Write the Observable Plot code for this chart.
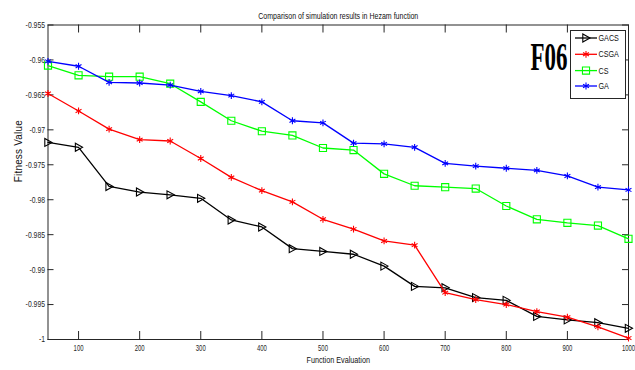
<!DOCTYPE html>
<html><head><meta charset="utf-8">
<script src="https://cdn.jsdelivr.net/npm/d3@7"></script>
<script src="https://cdn.jsdelivr.net/npm/@observablehq/plot@0.6"></script>
<style>body{margin:0;background:#fff;overflow:hidden} #chart{width:635px;height:370px}</style>
</head><body><div id="chart"></div>
<script>
const evaluations = [50,100,150,200,250,300,350,400,450,500,550,600,650,700,750,800,850,900,950,1000];
const gacs = [-0.9718,-0.9725,-0.9781,-0.9789,-0.9793,-0.9798,-0.9829,-0.9839,-0.9870,-0.9874,-0.9878,-0.9895,-0.9924,-0.9926,-0.9940,-0.9944,-0.9967,-0.9972,-0.9976,-0.9984];
const csga = [-0.9648,-0.9673,-0.9699,-0.9714,-0.9716,-0.9741,-0.9768,-0.9787,-0.9803,-0.9828,-0.9842,-0.9859,-0.9865,-0.9933,-0.9943,-0.9950,-0.9960,-0.9968,-0.9982,-0.9998];
const cs = [-0.9608,-0.9622,-0.9624,-0.9624,-0.9634,-0.9660,-0.9687,-0.9702,-0.9708,-0.9726,-0.9729,-0.9763,-0.9780,-0.9782,-0.9784,-0.9809,-0.9828,-0.9833,-0.9837,-0.9856];
const ga = [-0.9602,-0.9609,-0.9632,-0.9633,-0.9636,-0.9645,-0.9651,-0.9660,-0.9687,-0.9690,-0.9719,-0.9720,-0.9725,-0.9748,-0.9752,-0.9755,-0.9758,-0.9766,-0.9782,-0.9786];
const seriesNames = ["GACS","CSGA","CS","GA"];
const seriesColors = ["#000000","#ff0000","#00ff00","#0000ff"];
const xTicks = [100,200,300,400,500,600,700,800,900,1000];
const yTicks = [-1,-0.995,-0.99,-0.985,-0.98,-0.975,-0.97,-0.965,-0.96,-0.955];
const titleText = "Comparison of simulation results in Hezam function";
const xLabel = "Function Evaluation";
const yLabel = "Fitness Value";
const badge = "F06";

const triangleRight = {draw(ctx, size) {const r = Math.sqrt(size / Math.PI); ctx.moveTo(r, 0); ctx.lineTo(-r * 0.8, -r); ctx.lineTo(-r * 0.8, r); ctx.closePath();}};
const symbols = [triangleRight, d3.symbolAsterisk, d3.symbolSquare, d3.symbolAsterisk];
const radii = [4, 3.2, 4, 3.2];

const values = [gacs, csga, cs, ga];
const rows = [];
seriesNames.forEach((s, i) => values[i].forEach((v, j) => rows.push({x: evaluations[j], y: v, series: s})));

const W = 635, H = 370, mL = 47.5, mR = 7, mT = 24.5, mB = 31;
const pw = W - mL - mR, ph = H - mT - mB;
const axisColor = "#262626";

const marks = [
  Plot.frame({stroke: axisColor, strokeWidth: 1}),
  Plot.ruleX(xTicks, {x: d => d, insetTop: ph - 8, stroke: axisColor}),
  Plot.ruleX(xTicks, {x: d => d, insetBottom: ph - 8, stroke: axisColor}),
  Plot.ruleY(yTicks, {y: d => d, insetRight: pw - 6, stroke: axisColor}),
  Plot.ruleY(yTicks, {y: d => d, insetLeft: pw - 6, stroke: axisColor}),
  Plot.axisX(xTicks, {tickSize: 0, tickPadding: 5, label: null, fontSize: 9, fill: axisColor, tickFormat: d => String(d), className: "xt"}),
  Plot.axisY(yTicks, {tickSize: 0, tickPadding: 3, label: null, fontSize: 9, fill: axisColor, tickFormat: d => String(+d.toFixed(3)), className: "yt"}),
];
seriesNames.forEach((s, i) => {
  const data = rows.filter(r => r.series === s);
  marks.push(Plot.line(data, {x: "x", y: "y", stroke: seriesColors[i], strokeWidth: 1.3}));
  marks.push(Plot.dot(data, {x: "x", y: "y", symbol: () => symbols[i], r: radii[i], stroke: seriesColors[i], fill: "none", strokeWidth: 1.1}));
});
marks.push(Plot.text([titleText], {frameAnchor: "top", dy: -12.5, fontSize: 9.5, fill: "#111", className: "ttl"}));
marks.push(Plot.text([xLabel], {frameAnchor: "bottom", dy: 23, fontSize: 9.5, fill: "#111", className: "xl"}));
marks.push(Plot.text([yLabel], {frameAnchor: "left", dx: -29, rotate: -90, fontSize: 10, fill: "#111", className: "yl"}));
marks.push(Plot.text([badge], {frameAnchor: "top-right", dx: -61, dy: 44.5, lineAnchor: "bottom", textAnchor: "end", fontSize: 39, fontWeight: "bold", fontFamily: "Liberation Serif", fill: "#000", className: "badge"}));

const chart = Plot.plot({
  width: W, height: H, marginLeft: mL, marginRight: mR, marginTop: mT, marginBottom: mB,
  x: {domain: [50, 1000], axis: null},
  y: {domain: [-1, -0.955], axis: null},
  style: {fontFamily: "Liberation Sans, Arial, sans-serif", background: "#fff", overflow: "visible"},
  marks
});
document.getElementById("chart").appendChild(chart);

const svg = d3.select(chart);
// legend
const lg = svg.append("g").attr("text-anchor", "start");
lg.append("rect").attr("x", 570.5).attr("y", 30.5).attr("width", 55).attr("height", 68).attr("fill", "#fff").attr("stroke", axisColor);
const ly = [38, 54.3, 70.6, 86];
seriesNames.forEach((s, i) => {
  lg.append("line").attr("x1", 575).attr("x2", 597).attr("y1", ly[i]).attr("y2", ly[i]).attr("stroke", seriesColors[i]).attr("stroke-width", 1.3);
  lg.append("path").attr("d", d3.symbol(symbols[i], Math.PI * radii[i] * radii[i])()).attr("transform", `translate(586,${ly[i]})`)
    .attr("fill", "none").attr("stroke", seriesColors[i]).attr("stroke-width", 1.1);
  lg.append("text").attr("class", "lgt").attr("x", 598.5).attr("y", ly[i]).attr("dy", "0.35em").attr("text-anchor", "start").attr("font-size", 9).attr("fill", "#111").text(s);
});

// condense horizontal text (the reference is horizontally compressed), keeping each anchor in place
chart.querySelectorAll("text").forEach(t => {
  if (t.closest(".yl")) return;
  const b0 = t.getBBox();
  const len = t.getComputedTextLength();
  let target = len * 0.76;
  if (t.closest(".xt")) target = len * 0.66;
  if (t.closest(".ttl")) target = 160;
  if (t.closest(".badge")) target = 37;
  if (t.classList.contains("lgt")) target = len * 0.8;
  t.setAttribute("textLength", target);
  t.setAttribute("lengthAdjust", "spacingAndGlyphs");
  const b1 = t.getBBox();
  const anchor = getComputedStyle(t).textAnchor;
  let shift = 0;
  if (anchor === "middle") shift = (b0.x + b0.width / 2) - (b1.x + b1.width / 2);
  else if (anchor === "end") shift = (b0.x + b0.width) - (b1.x + b1.width);
  else shift = b0.x - b1.x;
  if (Math.abs(shift) > 0.01) t.setAttribute("transform", ((t.getAttribute("transform") || "") + ` translate(${shift},0)`).trim());
});
chart.querySelectorAll(".yl text").forEach(t => {t.setAttribute("textLength", 62); t.setAttribute("lengthAdjust", "spacing");});
</script>
</body></html>
